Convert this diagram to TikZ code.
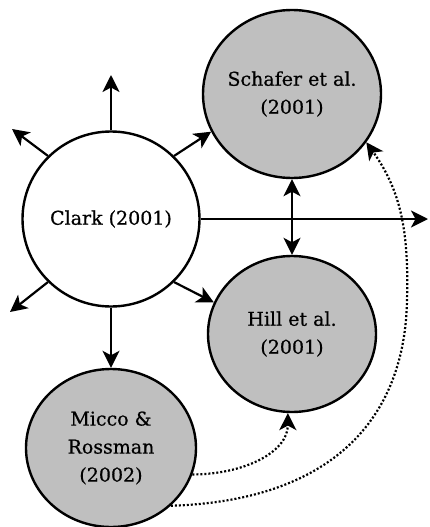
\documentclass[tikz,border=0pt]{standalone}
\usepackage{fontspec}
\setmainfont[FakeBold=0.6]{DejaVu Serif}
\usetikzlibrary{arrows.meta,shapes.geometric}
\begin{document}
\begin{tikzpicture}[x=1pt,y=-1pt,
  >={Stealth[length=17pt,width=17pt,inset=4.5pt]},
  paper/.style={ellipse, draw=black, line width=2.4pt, inner sep=-14pt,
    align=center, font=\fontsize{19}{28}\selectfont},
  seed/.style={paper, fill=white},
  cited/.style={paper, fill=black!25},
  link/.style={line width=2.2pt, ->},
  dotlink/.style={line width=2.2pt, ->, dash pattern=on 2pt off 2pt}
]
\useasboundingbox (0,0) rectangle (429,527);

% papers
\node[seed,  minimum width=177pt, minimum height=175pt] (clark)   at (111,219) {Clark (2001)};
\node[cited, minimum width=178pt, minimum height=168pt] (schafer) at (292,94)  {Schafer et al.\\(2001)};
\node[cited, minimum width=168pt, minimum height=156pt] (hill)    at (292,334) {Hill et al.\\(2001)};
\node[cited, minimum width=170pt, minimum height=158pt] (micco)   at (111,448) {Micco \&\\Rossman\\(2002)};

% loose ends of the outgoing citations
\coordinate (ul)  at (12,129);
\coordinate (up)  at (111,75);
\coordinate (ll)  at (10,312);
\coordinate (rt)  at (428,219);
\coordinate (bend) at (407,300);

% citations from Clark
\draw[link] (clark.135) -- (ul);
\draw[link] (clark.north) -- (up);
\draw[link] (clark.225) -- (ll);
\draw[link] (clark.east) -- (rt);
\draw[link] (clark.45) -- (schafer.205);
\draw[link] (clark.-45) -- (hill.158);
\draw[link] (clark.south) -- (micco.north);

% mutual citation
\draw[link, <->] (schafer.south) -- (hill.north);

% later citations from Micco & Rossman
\draw[dotlink] (micco.-18) .. controls +(50,0) and +(0,40) .. (hill.-93);
\draw[dotlink] (micco.-44) .. controls +(160,-5) and +(-2,120) .. (bend)
  .. controls +(2,-70) and +(34,48) .. (schafer.-33);
\end{tikzpicture}
\end{document}
